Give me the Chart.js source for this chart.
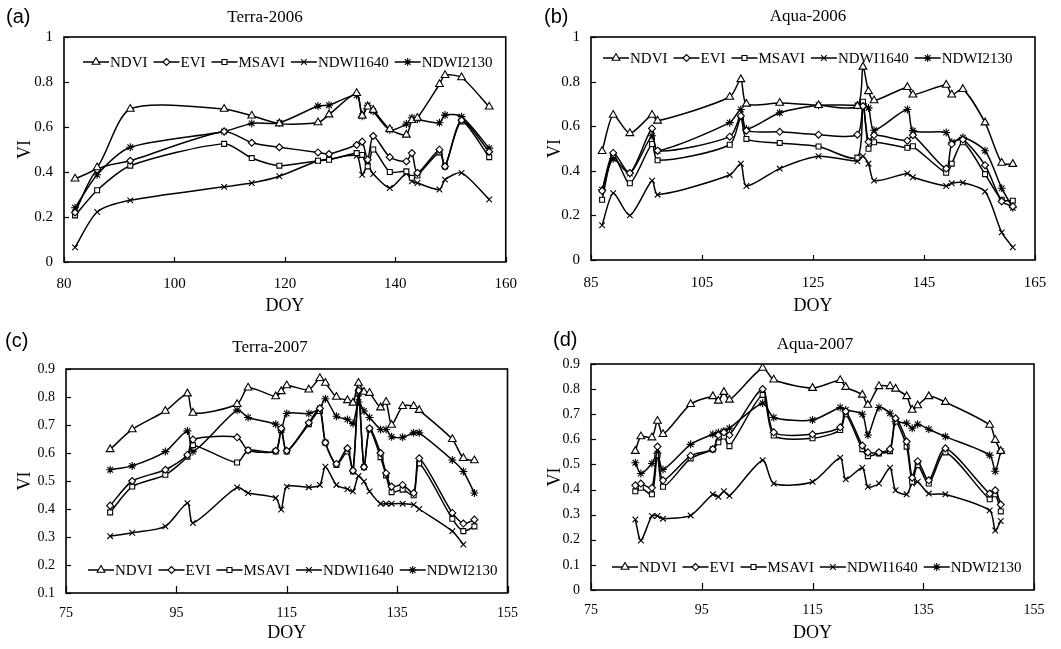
<!DOCTYPE html>
<html>
<head>
<meta charset="utf-8">
<script src="https://cdn.jsdelivr.net/npm/chart.js@4.4.0/dist/chart.umd.min.js"></script>
<style>
body { margin: 0; background: #fff; width: 1061px; height: 649px; position: relative; overflow: hidden; }
canvas { position: absolute; }
</style>
</head>
<body>
<canvas id="chartA" width="530" height="325" style="left:0;top:0"></canvas>
<canvas id="chartB" width="531" height="325" style="left:530px;top:0"></canvas>
<canvas id="chartC" width="530" height="324" style="left:0;top:325px"></canvas>
<canvas id="chartD" width="531" height="324" style="left:530px;top:325px"></canvas>
<script>
var seriesNames = ['NDVI', 'EVI', 'MSAVI', 'NDWI1640', 'NDWI2130'];
var pointShapes = ['triangle', 'rectRot', 'rect', 'crossRot', 'star'];
var pointSizes = [4.5, 3.5, 3.5, 4, 4];

// (a) Terra-2006
var doyA = [82, 86, 92, 109, 114, 119, 126, 128, 133, 134, 135, 136, 139, 142, 143, 144, 148, 149, 152, 157];
var ndviA = [0.37, 0.42, 0.68, 0.68, 0.65, 0.615, 0.62, 0.655, 0.75, 0.65, 0.69, 0.675, 0.59, 0.565, 0.63, 0.64, 0.79, 0.83, 0.82, 0.69];
var eviA = [0.22, 0.41, 0.45, 0.58, 0.53, 0.51, 0.487, 0.48, 0.52, 0.535, 0.455, 0.56, 0.466, 0.447, 0.484, 0.396, 0.499, 0.425, 0.63, 0.49];
var msaviA = [0.207, 0.319, 0.428, 0.525, 0.462, 0.428, 0.45, 0.454, 0.484, 0.476, 0.425, 0.5, 0.4, 0.403, 0.374, 0.384, 0.487, 0.425, 0.624, 0.466];
var ndwi1640A = [0.065, 0.222, 0.274, 0.334, 0.351, 0.381, 0.45, 0.457, 0.472, 0.388, 0.428, 0.391, 0.329, 0.393, 0.359, 0.351, 0.322, 0.366, 0.396, 0.278];
var ndwi2130A = [0.241, 0.388, 0.51, 0.58, 0.616, 0.619, 0.693, 0.697, 0.741, 0.648, 0.697, 0.67, 0.587, 0.613, 0.641, 0.634, 0.619, 0.653, 0.646, 0.506];
var xTicksA = [80, 100, 120, 140, 160];
var yTicksA = [0, 0.2, 0.4, 0.6, 0.8, 1];

// (b) Aqua-2006
var doyB = [87, 89, 92, 96, 97, 110, 112, 113, 119, 126, 133, 134, 135, 136, 142, 143, 149, 150, 152, 156, 159, 161];
var ndviB = [0.488, 0.65, 0.568, 0.65, 0.624, 0.731, 0.81, 0.7, 0.704, 0.694, 0.69, 0.866, 0.756, 0.715, 0.775, 0.741, 0.785, 0.741, 0.766, 0.616, 0.435, 0.43];
var eviB = [0.31, 0.48, 0.39, 0.59, 0.49, 0.553, 0.646, 0.58, 0.575, 0.562, 0.562, 0.69, 0.53, 0.56, 0.535, 0.56, 0.41, 0.52, 0.54, 0.425, 0.263, 0.24];
var msaviB = [0.27, 0.47, 0.344, 0.52, 0.447, 0.517, 0.64, 0.543, 0.525, 0.509, 0.459, 0.71, 0.499, 0.528, 0.503, 0.51, 0.391, 0.432, 0.528, 0.385, 0.27, 0.266];
var ndwi1640B = [0.156, 0.3, 0.2, 0.356, 0.293, 0.381, 0.432, 0.332, 0.41, 0.465, 0.443, 0.465, 0.432, 0.356, 0.388, 0.371, 0.332, 0.344, 0.347, 0.307, 0.124, 0.057];
var ndwi2130B = [0.315, 0.454, 0.388, 0.557, 0.49, 0.616, 0.675, 0.587, 0.66, 0.694, 0.694, 0.7, 0.682, 0.582, 0.675, 0.58, 0.572, 0.528, 0.55, 0.49, 0.322, 0.234];
var xTicksB = [85, 105, 125, 145, 165];
var yTicksB = [0, 0.2, 0.4, 0.6, 0.8, 1];

// (c) Terra-2007
var doyC = [83, 87, 93, 97, 98, 106, 108, 113, 114, 115, 119, 121, 122, 124, 126, 127, 128, 129, 130, 132, 133, 134, 136, 138, 139, 145, 147, 149];
var ndviC = [0.613, 0.684, 0.75, 0.812, 0.743, 0.774, 0.833, 0.802, 0.82, 0.841, 0.826, 0.867, 0.85, 0.8, 0.788, 0.779, 0.85, 0.818, 0.814, 0.762, 0.782, 0.7, 0.767, 0.767, 0.753, 0.649, 0.581, 0.573];
var eviC = [0.412, 0.5, 0.54, 0.593, 0.648, 0.656, 0.61, 0.608, 0.688, 0.608, 0.708, 0.759, 0.637, 0.561, 0.617, 0.537, 0.824, 0.55, 0.688, 0.6, 0.528, 0.48, 0.486, 0.457, 0.581, 0.386, 0.348, 0.362];
var msaviC = [0.388, 0.48, 0.522, 0.587, 0.628, 0.566, 0.61, 0.605, 0.682, 0.605, 0.703, 0.75, 0.637, 0.557, 0.605, 0.534, 0.812, 0.549, 0.684, 0.585, 0.52, 0.46, 0.469, 0.449, 0.563, 0.365, 0.321, 0.338];
var ndwi1640C = [0.303, 0.315, 0.338, 0.421, 0.35, 0.477, 0.457, 0.439, 0.398, 0.48, 0.478, 0.486, 0.551, 0.486, 0.471, 0.463, 0.518, 0.498, 0.463, 0.419, 0.419, 0.419, 0.419, 0.415, 0.4, 0.321, 0.273, null];
var ndwi2130C = [0.54, 0.554, 0.605, 0.679, 0.605, 0.753, 0.727, 0.703, 0.682, 0.741, 0.741, 0.76, 0.794, 0.731, 0.72, 0.705, 0.782, 0.75, 0.727, 0.684, 0.684, 0.658, 0.656, 0.672, 0.672, 0.575, 0.534, 0.457];
var xTicksC = [75, 95, 115, 135, 155];
var yTicksC = [0.1, 0.2, 0.3, 0.4, 0.5, 0.6, 0.7, 0.8, 0.9];

// (d) Aqua-2007
var doyD = [83, 84, 86, 87, 88, 93, 97, 98, 99, 100, 106, 108, 115, 120, 121, 124, 125, 127, 129, 130, 132, 133, 134, 136, 139, 147, 148, 149];
var ndviD = [0.553, 0.611, 0.607, 0.673, 0.62, 0.74, 0.771, 0.753, 0.788, 0.757, 0.884, 0.837, 0.804, 0.835, 0.808, 0.777, 0.737, 0.811, 0.811, 0.801, 0.771, 0.717, 0.735, 0.771, 0.748, 0.657, 0.597, 0.553];
var eviD = [0.417, 0.424, 0.407, 0.571, 0.437, 0.535, 0.561, 0.617, 0.628, 0.617, 0.8, 0.628, 0.62, 0.648, 0.711, 0.575, 0.548, 0.548, 0.561, 0.684, 0.591, 0.447, 0.513, 0.437, 0.564, 0.384, 0.397, 0.34];
var msaviD = [0.393, 0.407, 0.381, 0.537, 0.411, 0.524, 0.56, 0.588, 0.611, 0.573, 0.777, 0.615, 0.604, 0.637, 0.7, 0.561, 0.533, 0.544, 0.553, 0.671, 0.571, 0.431, 0.497, 0.424, 0.548, 0.361, 0.381, 0.313];
var ndwi1640D = [0.281, 0.197, 0.295, 0.295, 0.284, 0.297, 0.381, 0.371, 0.393, 0.375, 0.517, 0.424, 0.431, 0.527, 0.441, 0.487, 0.411, 0.424, 0.487, 0.397, 0.381, 0.424, 0.431, 0.384, 0.381, 0.317, 0.237, 0.275];
var ndwi2130D = [0.507, 0.464, 0.504, 0.544, 0.48, 0.58, 0.62, 0.627, 0.633, 0.644, 0.744, 0.687, 0.677, 0.727, 0.717, 0.7, 0.617, 0.727, 0.704, 0.671, 0.664, 0.644, 0.66, 0.64, 0.611, 0.537, 0.473, 0.553];
var xTicksD = [75, 95, 115, 135, 155];
var yTicksD = [0, 0.1, 0.2, 0.3, 0.4, 0.5, 0.6, 0.7, 0.8, 0.9];

var serif = '"Liberation Serif", "Times New Roman", serif';

// box, inward ticks, title, panel tag and the legend drawn inside the plot
var panelDeco = {
    id: 'panelDeco',
    afterDraw: function (chart) {
        var o = chart.options.plugins.panelDeco;
        var ctx = chart.ctx;
        var a = chart.chartArea;
        ctx.save();
        ctx.strokeStyle = '#000';
        ctx.fillStyle = '#000';
        ctx.lineWidth = 1.6;
        ctx.strokeRect(a.left, a.top, a.right - a.left, a.bottom - a.top);

        ctx.lineWidth = 1.2;
        chart.scales.x.ticks.forEach(function (t) {
            var px = Math.round(chart.scales.x.getPixelForValue(t.value)) + 0.5;
            ctx.beginPath();
            ctx.moveTo(px, a.bottom);
            ctx.lineTo(px, a.bottom - o.tickLen);
            ctx.stroke();
        });
        chart.scales.y.ticks.forEach(function (t) {
            var py = Math.round(chart.scales.y.getPixelForValue(t.value)) + 0.5;
            ctx.beginPath();
            ctx.moveTo(a.left, py);
            ctx.lineTo(a.left + 5, py);
            ctx.stroke();
        });

        ctx.textBaseline = 'middle';
        ctx.textAlign = 'center';
        ctx.font = '17px ' + serif;
        ctx.fillText(o.title, o.titleX, o.titleY);
        ctx.textAlign = 'left';
        ctx.font = '20px "Liberation Sans", Arial, sans-serif';
        ctx.fillText(o.tag, o.tagX, o.tagY);

        var x = a.left + o.legX;
        var y = o.legTop ? a.top + o.legY : a.bottom - o.legY;
        ctx.font = o.legFont + 'px ' + serif;
        chart.data.datasets.forEach(function (ds) {
            ctx.strokeStyle = '#000';
            ctx.lineWidth = 1.5;
            ctx.beginPath();
            ctx.moveTo(x, y);
            ctx.lineTo(x + 26, y);
            ctx.stroke();
            ctx.fillStyle = '#fff';
            ctx.lineWidth = 1.1;
            Chart.helpers.drawPoint(ctx, {pointStyle: ds.pointStyle, radius: ds.pointRadius, borderWidth: 1, rotation: 0}, x + 13, y);
            ctx.fillStyle = '#000';
            ctx.fillText(ds.label, x + 27, y + 1);
            x += 27 + ctx.measureText(ds.label).width + o.legGap;
        });
        ctx.restore();
    }
};

function tickText(v) {
    return String(Math.round(v * 10) / 10);
}

function makePanel(id, c) {
    var datasets = c.series.map(function (vals, i) {
        return {
            label: seriesNames[i],
            data: c.doy.map(function (d, k) { return {x: d, y: vals[k]}; }),
            borderColor: '#000',
            borderWidth: 1.5,
            backgroundColor: '#fff',
            pointStyle: pointShapes[i],
            pointRadius: pointSizes[i],
            pointBorderWidth: 1.1,
            pointBorderColor: '#000',
            pointBackgroundColor: '#fff',
            tension: 0.25,
            fill: false
        };
    });
    var tickFont = {family: serif, size: c.tickFont};
    new Chart(document.getElementById(id), {
        type: 'line',
        data: {datasets: datasets},
        options: {
            responsive: false,
            animation: false,
            layout: {padding: {top: c.padTop, right: c.padRight, left: 0, bottom: 0}},
            plugins: {
                legend: {display: false},
                tooltip: {enabled: false},
                panelDeco: c.deco
            },
            scales: {
                x: {
                    type: 'linear',
                    min: c.xTicks[0],
                    max: c.xTicks[c.xTicks.length - 1],
                    ticks: {stepSize: c.xTicks[1] - c.xTicks[0], padding: c.xTickPad, font: tickFont, color: '#000', maxRotation: 0},
                    grid: {display: false, drawTicks: false},
                    border: {display: false},
                    title: {display: true, text: 'DOY', color: '#000', font: {family: serif, size: 18}, padding: {top: 0, bottom: c.doyPad}},
                    afterFit: function (s) { s.height = c.xHeight; }
                },
                y: {
                    min: c.yTicks[0],
                    max: c.yTicks[c.yTicks.length - 1],
                    ticks: {stepSize: c.yTicks[1] - c.yTicks[0], padding: 11, font: tickFont, color: '#000', callback: tickText},
                    grid: {display: false, drawTicks: false},
                    border: {display: false},
                    title: {display: true, text: 'VI', color: '#000', font: {family: serif, size: 18}, padding: {top: c.viPad, bottom: 0}},
                    afterFit: function (s) { s.width = c.yWidth; }
                }
            }
        },
        plugins: [panelDeco]
    });
}

makePanel('chartA', {
    doy: doyA, series: [ndviA, eviA, msaviA, ndwi1640A, ndwi2130A], xTicks: xTicksA, yTicks: yTicksA,
    padTop: 37, padRight: 22, yWidth: 64, xHeight: 63, xTickPad: 13, doyPad: 8, viPad: 14, tickFont: 15,
    deco: {title: 'Terra-2006', titleX: 265, titleY: 18, tag: '(a)', tagX: 6, tagY: 17,
           legX: 19, legY: 25, legTop: true, legFont: 15, legGap: 6, tickLen: 5}
});
makePanel('chartB', {
    doy: doyB, series: [ndviB, eviB, msaviB, ndwi1640B, ndwi2130B], xTicks: xTicksB, yTicks: yTicksB,
    padTop: 37, padRight: 26, yWidth: 61, xHeight: 65, xTickPad: 14, doyPad: 8, viPad: 14, tickFont: 15,
    deco: {title: 'Aqua-2006', titleX: 278, titleY: 17, tag: '(b)', tagX: 14, tagY: 17,
           legX: 12, legY: 21, legTop: true, legFont: 15, legGap: 6, tickLen: 5}
});
makePanel('chartC', {
    doy: doyC, series: [ndviC, eviC, msaviC, ndwi1640C, ndwi2130C], xTicks: xTicksC, yTicks: yTicksC,
    padTop: 44, padRight: 12, yWidth: 66, xHeight: 56, xTickPad: 12, doyPad: 5, viPad: 14, tickFont: 14,
    deco: {title: 'Terra-2007', titleX: 270, titleY: 23, tag: '(c)', tagX: 5, tagY: 16,
           legX: 22, legY: 23, legTop: false, legFont: 15, legGap: 6, tickLen: 7}
});
makePanel('chartD', {
    doy: doyD, series: [ndviD, eviD, msaviD, ndwi1640D, ndwi2130D], xTicks: xTicksD, yTicks: yTicksD,
    padTop: 39, padRight: 27, yWidth: 61, xHeight: 59, xTickPad: 12, doyPad: 5, viPad: 14, tickFont: 14,
    deco: {title: 'Aqua-2007', titleX: 285, titleY: 20, tag: '(d)', tagX: 23, tagY: 15,
           legX: 21, legY: 23, legTop: false, legFont: 15, legGap: 6, tickLen: 7}
});
</script>
</body>
</html>
